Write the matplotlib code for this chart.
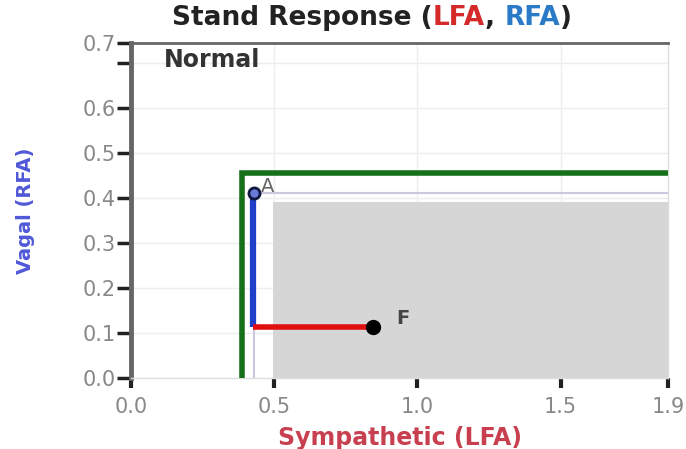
import matplotlib
matplotlib.use("Agg")
import matplotlib.pyplot as plt
from matplotlib.patches import Rectangle

# ---- data ----
x_ticks = [0.0, 0.5, 1.0, 1.5, 1.875]
x_tick_labels = ["0.0", "0.5", "1.0", "1.5", "1.9"]
y_ticks = [0.0, 0.1, 0.2, 0.3, 0.4, 0.5, 0.6, 0.7, 0.744]
y_tick_labels = ["0.0", "0.1", "0.2", "0.3", "0.4", "0.5", "0.6", "", "0.7"]
x_max = 1.875
y_max = 0.744

green_x = [0.386, 0.386, x_max]
green_y = [0.0, 0.456, 0.456]
outline_x = [0.43, 0.43, x_max]
outline_y = [0.0, 0.411, 0.411]
blue_x = [0.427, 0.427]
blue_y = [0.113, 0.411]
red_x = [0.427, 0.846]
red_y = [0.113, 0.113]
zone_x = [0.497, x_max]
zone_y = [0.0, 0.391]
point_A = (0.43, 0.411)
point_F = (0.846, 0.113)

fig = plt.figure(figsize=(6.86, 4.49), dpi=100)
ax = fig.add_axes([131/686, 1-378/449, (668-131)/686, (378-43)/449])
ax.set_xlim(0, x_max)
ax.set_ylim(0, y_max)

# grid
for gx in [0.5, 1.0, 1.5]:
    ax.axvline(gx, color="#eeeeee", lw=1, zorder=0)
for gy in [0.1, 0.2, 0.3, 0.4, 0.5, 0.6, 0.7]:
    ax.axhline(gy, color="#eeeeee", lw=1, zorder=0)

ax.add_patch(Rectangle((zone_x[0], zone_y[0]), zone_x[1]-zone_x[0], zone_y[1]-zone_y[0],
                       facecolor="#d6d6d6", edgecolor="none", zorder=1))
ax.plot(outline_x, outline_y, color="#c8c8e0", lw=1.5, zorder=2, solid_capstyle="butt")
ax.plot(green_x, green_y, color="#16701a", lw=4, zorder=3, solid_joinstyle="miter")
ax.plot(blue_x, blue_y, color="#1f3fc8", lw=4.5, zorder=4, solid_capstyle="butt")
ax.plot(red_x, red_y, color="#e01010", lw=4, zorder=4, solid_capstyle="butt")
ax.plot([point_A[0]], [point_A[1]], marker="o", ms=8, mfc="#6a7ad8", mec="#101840", mew=2, zorder=5)
ax.plot([point_F[0]], [point_F[1]], marker="o", ms=10, color="black", zorder=5)
ax.text(point_A[0]+0.025, point_A[1]+0.003, "A", fontsize=14, color="#666666", zorder=6)
ax.text(point_F[0]+0.08, point_F[1]+0.008, "F", fontsize=14, color="#444444", fontweight="bold", zorder=6)
ax.text(0.115, 0.707, "Normal", fontsize=17, color="#333333", fontweight="bold", va="center")

# spines
ax.spines["left"].set_color("#666666")
ax.spines["left"].set_linewidth(3.5)
ax.spines["top"].set_color("#666666")
ax.spines["top"].set_linewidth(2)
ax.spines["right"].set_color("#dddddd")
ax.spines["right"].set_linewidth(1)
ax.spines["bottom"].set_color("#dddddd")
ax.spines["bottom"].set_linewidth(1)

ax.set_xticks(x_ticks)
ax.set_xticklabels(x_tick_labels)
ax.set_yticks(y_ticks)
ax.set_yticklabels(y_tick_labels)
ax.tick_params(axis="x", direction="out", length=7, width=3, color="#222222", pad=7,
               labelsize=15, labelcolor="#888888")
ax.tick_params(axis="y", direction="out", length=10, width=2.5, color="#222222", pad=1,
               labelsize=15, labelcolor="#888888")

ax.set_xlabel("Sympathetic (LFA)", fontsize=17, color="#c84050", fontweight="bold", labelpad=6)
ax.set_ylabel("Vagal (RFA)", fontsize=14, color="#5058d8", fontweight="bold", labelpad=34)

# multicolour title
parts = [("Stand Response (", "#222222"), ("LFA", "#d42a2a"), (", ", "#222222"),
         ("RFA", "#2a7ac8"), (")", "#222222")]
fig.canvas.draw()
r = fig.canvas.get_renderer()
texts = []
for s, c in parts:
    t = fig.text(0, 1-18/449, s, color=c, fontsize=19, fontweight="bold", va="center", ha="left")
    texts.append(t)
widths = [t.get_window_extent(r).width for t in texts]
total = sum(widths)
x0 = (372 - total/2)
for t, w in zip(texts, widths):
    t.set_x(x0/686)
    x0 += w

fig.savefig("out.png", dpi=100)
